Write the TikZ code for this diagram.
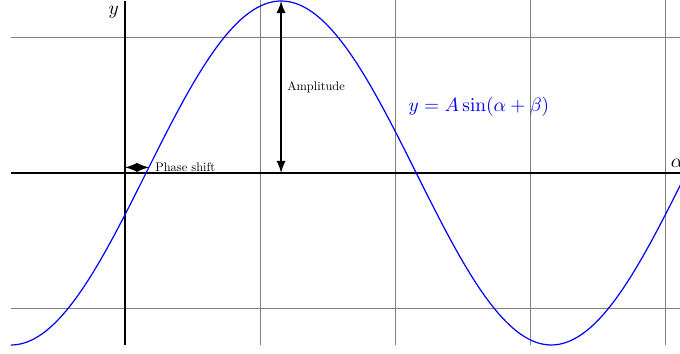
\documentclass[tikz,border=0pt]{standalone}
\usetikzlibrary{arrows}
\begin{document}
\begin{tikzpicture}[
  gridline/.style={gray, line width=0.35pt},
  axisline/.style={black, line width=0.4pt},
  dimarrow/.style={latex-latex, black, line width=0.4pt},
  smalllabel/.style={font=\normalsize, scale=0.41, inner sep=0pt, anchor=west},
  mathlabel/.style={scale=0.64, inner sep=0pt}
]
\useasboundingbox (-1.4535,-2.1047) rectangle (6.4535,2.0116);
\begin{scope}
\clip (-1.4535,-2.1047) rectangle (6.4535,2.0116);
% grid
\foreach \y in {-1.5708,1.5708}
  \draw[gridline] (-1.3256,\y) -- (6.6,\y);
\foreach \x in {1.5708,3.1416,4.7124,6.2832}
  \draw[gridline] (\x,-2) -- (\x,2.1);
% axes
\coordinate (xl) at (-1.3256,0);
\coordinate (xr) at (6.6,0);
\coordinate (yb) at (0,-2);
\coordinate (yt) at (0,2.0);
\draw[axisline] (xl) -- (xr);
\draw[axisline] (yb) -- (yt);
% curve
\draw[blue, line width=0.4pt, domain=-1.3256:6.6, samples=200, smooth]
  plot (\x,{2*sin((\x-0.245) r)});
\end{scope}
% labels
\node[mathlabel] (ylab) at (-0.13,1.87) {$y$};
\node[mathlabel] (alab) at (6.42,0.116) {$\alpha$};
\node[mathlabel, text=blue] (eq) at (4.116,0.767) {$y = A\sin(\alpha+\beta)$};
% phase shift
\coordinate (ps0) at (0,0.065);
\coordinate (ps1) at (0.28,0.065);
\draw[dimarrow] (ps0) -- (ps1);
\node[smalllabel] (pslab) at (0.35,0.065) {Phase shift};
% amplitude
\coordinate (am0) at (1.815,0);
\coordinate (am1) at (1.815,2.0);
\draw[dimarrow] (am0) -- (am1);
\node[smalllabel] (amlab) at (1.885,1.0) {Amplitude};
\end{tikzpicture}
\end{document}
